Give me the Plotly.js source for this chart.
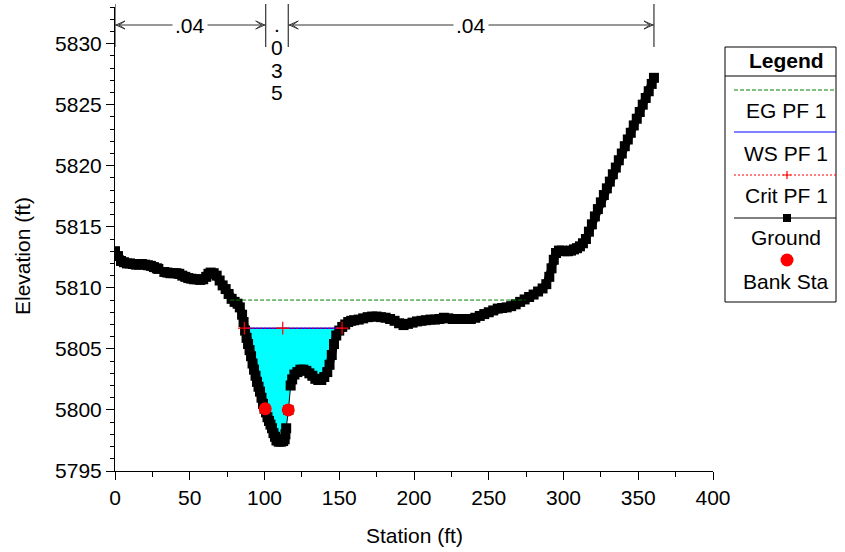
<!DOCTYPE html>
<html>
<head>
<meta charset="utf-8">
<script src="https://cdn.plot.ly/plotly-3.0.1.min.js"></script>
<style>
html,body{margin:0;padding:0;background:#fff;}
#chart{width:845px;height:552px;}
</style>
</head>
<body>
<div id="chart"></div>
<script>
// ---- Data ----
const station = [0,2,4,6,8,10,12,14,16,18,20,22,24,26,28,29,
  33,35,37,39,41,43,45,47,49,51,53,55,57,59,61,62.5,64,66,68,70,72,74,76,78,80,82,83.5,85,86,87,88,89,90,91,92,93,94,95,96,97,98,99,100,
  101,102,103,104,105,106,107,108,109.5,111,112.5,113.5,114,114.5,
  116,117.5,118.5,120,122,124,126,128,130,132,134,136,138,140,142,143.5,145,146.5,148,150,152,154,156,158,160,163,166,169,172,175,178,181,184,187,190,193,196,199,202,205,208,211,214,217,220,223,226,229,232,235,238,241,244,247,250,253,256,259,262,265,268,271,274,277,280,283,286,288.5,290.5,292,293.5,295,297,299,301,303,305,307,309,311,313,315,317,319,321,323,325,327,329,331,333,335,337,339,341,343,345,347,349,351,353,355,357,359,360.5];
const elevation = [5813.0,5812.6,5812.2,5812.1,5812.0,5812.0,5811.95,5811.9,5811.9,5811.95,5811.9,5811.85,5811.8,5811.7,5811.6,5811.55,
  5811.3,5811.25,5811.2,5811.2,5811.2,5811.15,5811.0,5810.9,5810.8,5810.75,5810.7,5810.7,5810.65,5810.7,5810.9,5811.15,5811.25,5811.2,5811.0,5810.6,5810.2,5809.9,5809.5,5809.1,5808.85,5808.7,5808.4,5807.8,5807.2,5806.5,5805.9,5805.4,5804.9,5804.4,5803.8,5803.3,5802.8,5802.3,5801.9,5801.5,5801.0,5800.5,5800.1,
  5799.8,5799.4,5799.1,5798.8,5798.5,5798.1,5797.8,5797.5,5797.4,5797.4,5797.45,5797.6,5798.0,5798.5,
  5800.0,5802.0,5802.5,5802.9,5803.1,5803.3,5803.3,5803.2,5803.0,5802.8,5802.55,5802.45,5802.45,5802.7,5803.1,5803.7,5804.5,5805.4,5806.1,5806.5,5806.8,5807.0,5807.2,5807.3,5807.35,5807.4,5807.5,5807.6,5807.65,5807.65,5807.6,5807.55,5807.45,5807.3,5807.1,5806.95,5807.05,5807.15,5807.25,5807.3,5807.35,5807.4,5807.4,5807.45,5807.55,5807.5,5807.45,5807.45,5807.45,5807.45,5807.45,5807.55,5807.7,5807.85,5808.0,5808.15,5808.3,5808.35,5808.4,5808.5,5808.65,5808.85,5809.05,5809.25,5809.45,5809.7,5809.95,5810.3,5810.9,5811.6,5812.3,5812.85,5813.05,5813.05,5813.0,5813.0,5813.05,5813.15,5813.25,5813.4,5813.65,5814.0,5814.6,5815.2,5815.85,5816.45,5817.0,5817.6,5818.15,5818.7,5819.3,5819.85,5820.45,5821.0,5821.6,5822.15,5822.7,5823.3,5823.85,5824.4,5825.0,5825.55,5826.1,5826.7,5827.2];

const wsElev = 5806.7;
const wsStations = [86.5, 151.9];
const egElev = 5809.0;
const egStations = [77, 274.5];
const critElev = 5806.7;
const critStations = [86.5, 112.2, 151.9];
const bankStations = [100.5, 115.9];
const bankElev = [5800.1, 5800.0];
const nStations = [0, 100.8, 115.9, 360.5];
const nValues = ['.04', '.035', '.04'];
const legendLabels = ['EG PF 1', 'WS PF 1', 'Crit PF 1', 'Ground', 'Bank Sta'];

const xTitle = 'Station (ft)';
const yTitle = 'Elevation (ft)';
const xRange = [0, 400];
const yRange = [5795, 5833];

// ---- Layout geometry ----
const FONT = 'Liberation Sans, Arial, sans-serif';
const FS = 21;
const M = {l:115, r:132, t:7, b:81};
const PW = 845 - M.l - M.r, PH = 552 - M.t - M.b;
const px = p => (p - M.l) / PW;           // page x pixel -> paper
const py = p => 1 - (p - M.t) / PH;       // page y pixel -> paper
const xToPx = v => M.l + (v - xRange[0]) / (xRange[1] - xRange[0]) * PW;
const txtFont = {family:FONT, size:FS, color:'#000'};

// Water-surface fill polygon from ground and WS level
const fillX = [wsStations[0]], fillY = [wsElev];
station.forEach((s, i) => {
  if (s > wsStations[0] && s < wsStations[1]) { fillX.push(s); fillY.push(Math.min(elevation[i], wsElev)); }
});
fillX.push(wsStations[1]); fillY.push(wsElev);

// Thick ground band: broken where surveyed points are far apart (drawn thin there)
const bandX = [], bandY = [];
station.forEach((s, i) => {
  if (i > 0 && (s - station[i-1] >= 3.5 || Math.abs(elevation[i] - elevation[i-1]) >= 1.2)) {
    bandX.push(null); bandY.push(null);
  }
  bandX.push(s); bandY.push(elevation[i]);
});

const traces = [
  {x: fillX, y: fillY, type:'scatter', mode:'lines', fill:'toself', fillcolor:'#00FFFF',
   line:{width:0, color:'#00FFFF'}, hoverinfo:'skip', showlegend:false},
  {x: bandX, y: bandY, type:'scatter', mode:'lines', connectgaps:false,
   line:{color:'#000000', width:8}, hoverinfo:'skip', showlegend:false},
  {x: station, y: elevation, type:'scatter', mode:'lines+markers',
   line:{color:'#000000', width:1},
   marker:{symbol:'square', size:10, color:'#000000', line:{width:0}}, name: legendLabels[3]},
  {x: egStations, y: egStations.map(() => egElev), type:'scatter', mode:'lines',
   line:{color:'#008000', width:1, dash:'4px,2px'}, name: legendLabels[0]},
  {x: wsStations, y: wsStations.map(() => wsElev), type:'scatter', mode:'lines',
   line:{color:'#0000FF', width:1.5}, name: legendLabels[1]},
  {x: critStations, y: critStations.map(() => critElev), type:'scatter', mode:'lines+markers',
   line:{color:'#FF0000', width:1, dash:'2px,2px'},
   marker:{symbol:'cross-thin', size:9, line:{color:'#FF0000', width:1.2}}, name: legendLabels[2]},
  {x: bankStations, y: bankElev, type:'scatter', mode:'markers',
   marker:{symbol:'circle', size:13, color:'#FF0000', line:{width:0}}, name: legendLabels[4]}
];

const shapes = [];
const annotations = [];

// n-value brackets on top
const arrowY = py(25);
nStations.forEach(s => {
  shapes.push({type:'line', xref:'x', yref:'paper', x0:s, x1:s, y0:py(4), y1:py(47),
    line:{color:'#333333', width:1.2}});
});
for (let i = 0; i < nValues.length; i++) {
  const s0 = nStations[i], s1 = nStations[i+1];
  const wpx = xToPx(s1) - xToPx(s0);
  const mid = (s0 + s1) / 2;
  if (wpx > 40) {
    shapes.push({type:'line', xref:'x', yref:'paper', x0:s0, x1:s1, y0:arrowY, y1:arrowY,
      line:{color:'#333333', width:1}});
    shapes.push({type:'path', xref:'x', yref:'paper', xsizemode:'pixel', ysizemode:'pixel',
      xanchor:s0, yanchor:arrowY, path:'M10,4L1,0L10,-4M10,4L4,0L10,-4',
      line:{color:'#333333', width:1}});
    shapes.push({type:'path', xref:'x', yref:'paper', xsizemode:'pixel', ysizemode:'pixel',
      xanchor:s1, yanchor:arrowY, path:'M-10,4L-1,0L-10,-4M-10,4L-4,0L-10,-4',
      line:{color:'#333333', width:1}});
    annotations.push({xref:'x', yref:'paper', x:mid, y:arrowY, text:nValues[i], showarrow:false,
      bgcolor:'#ffffff', borderpad:2, xanchor:'center', yanchor:'middle', font:txtFont});
  } else {
    nValues[i].split('').forEach((ch, k) => {
      annotations.push({xref:'x', yref:'paper', x:mid, y:py(24 + 23*k), text:ch,
        showarrow:false, xanchor:'center', yanchor:'middle', borderpad:0, font:txtFont});
    });
  }
}

// Axis titles
annotations.push({xref:'paper', yref:'paper', x:px(414), y:py(535), text:xTitle, showarrow:false,
  xanchor:'center', yanchor:'middle', font:txtFont});
annotations.push({xref:'paper', yref:'paper', x:px(22), y:py(256), text:yTitle, showarrow:false,
  textangle:-90, xanchor:'center', yanchor:'middle', font:txtFont});

// Custom legend box
const LX0 = 725, LX1 = 836, LY0 = 47, LY1 = 302, LC = 786;
shapes.push({type:'rect', xref:'paper', yref:'paper', x0:px(LX0), x1:px(LX1), y0:py(LY1), y1:py(LY0),
  line:{color:'#000', width:1}, fillcolor:'rgba(0,0,0,0)'});
shapes.push({type:'line', xref:'paper', yref:'paper', x0:px(LX0), x1:px(LX1), y0:py(76), y1:py(76),
  line:{color:'#000', width:1}});
annotations.push({xref:'paper', yref:'paper', x:px(LC), y:py(60), text:'<b>Legend</b>', showarrow:false,
  xanchor:'center', yanchor:'middle', font:txtFont});
const lineL = 734, lineR = 836;
shapes.push({type:'line', xref:'paper', yref:'paper', x0:px(lineL), x1:px(lineR), y0:py(90), y1:py(90),
  line:{color:'#008000', width:1, dash:'4px,2px'}});
shapes.push({type:'line', xref:'paper', yref:'paper', x0:px(lineL), x1:px(lineR), y0:py(132), y1:py(132),
  line:{color:'#0000FF', width:1.2}});
shapes.push({type:'line', xref:'paper', yref:'paper', x0:px(lineL), x1:px(lineR), y0:py(175), y1:py(175),
  line:{color:'#FF0000', width:1, dash:'2px,2px'}});
shapes.push({type:'path', xref:'paper', yref:'paper', xsizemode:'pixel', ysizemode:'pixel',
  xanchor:px(LC+1), yanchor:py(175), path:'M-4,0L4,0M0,-4L0,4', line:{color:'#FF0000', width:1.2}});
shapes.push({type:'line', xref:'paper', yref:'paper', x0:px(lineL), x1:px(lineR), y0:py(218), y1:py(218),
  line:{color:'#000', width:1}});
shapes.push({type:'rect', xref:'paper', yref:'paper', xsizemode:'pixel', ysizemode:'pixel',
  xanchor:px(LC+1), yanchor:py(218), x0:-4, x1:4, y0:-4, y1:4, fillcolor:'#000', line:{width:0}});
shapes.push({type:'circle', xref:'paper', yref:'paper', xsizemode:'pixel', ysizemode:'pixel',
  xanchor:px(LC+1), yanchor:py(260), x0:-6.5, x1:6.5, y0:-6.5, y1:6.5, fillcolor:'#FF0000', line:{width:0}});
const labelY = [110, 153, 195, 238, 281];
legendLabels.forEach((t, i) => {
  annotations.push({xref:'paper', yref:'paper', x:px(LC), y:py(labelY[i]), text:t, showarrow:false,
    xanchor:'center', yanchor:'middle', font:txtFont});
});

const layout = {
  width:845, height:552,
  margin:M,
  paper_bgcolor:'#ffffff', plot_bgcolor:'#ffffff',
  showlegend:false,
  font:txtFont,
  xaxis:{range:xRange, dtick:50, tick0:0, ticks:'outside', ticklen:8, tickcolor:'#000', tickwidth:1,
    showline:true, linecolor:'#000', linewidth:1, showgrid:false, zeroline:false, mirror:false,
    minor:{dtick:25, ticks:'outside', ticklen:5, tickcolor:'#000', showgrid:false},
    tickfont:txtFont},
  yaxis:{range:yRange, dtick:5, tick0:5795, ticks:'outside', ticklen:8, tickcolor:'#000', tickwidth:1,
    showline:true, linecolor:'#000', linewidth:1, showgrid:false, zeroline:false, mirror:false,
    minor:{dtick:1, ticks:'outside', ticklen:4, tickcolor:'#000', showgrid:false},
    tickfont:txtFont},
  shapes:shapes,
  annotations:annotations
};

Plotly.newPlot('chart', traces, layout, {staticPlot:true, displayModeBar:false});
</script>
</body>
</html>
